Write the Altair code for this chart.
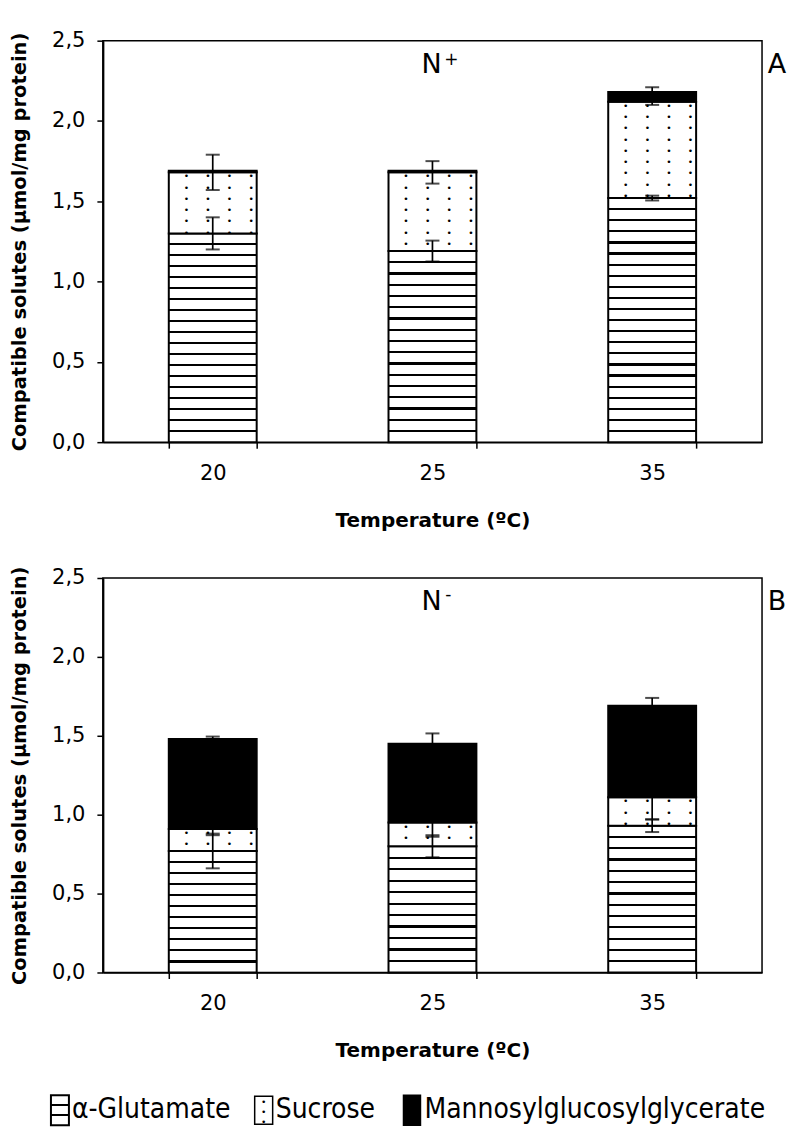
import altair as alt
import pandas as pd

# ---------------- data ----------------
temps = ["20", "25", "35"]
series_names = ["α-Glutamate", "Sucrose", "Mannosylglucosylglycerate"]
y_ticks = [0.0, 0.5, 1.0, 1.5, 2.0, 2.5]

# Panel A (N+)
a_glu = [1.30, 1.19, 1.52]
a_suc = [0.38, 0.49, 0.60]
a_mgg = [0.01, 0.01, 0.06]
a_glu_err = [0.10, 0.065, 0.015]
a_suc_err = [0.11, 0.07, 0.02]
a_mgg_err = [0.0, 0.0, 0.03]

# Panel B (N-)
b_glu = [0.77, 0.80, 0.93]
b_suc = [0.14, 0.15, 0.18]
b_mgg = [0.57, 0.50, 0.58]
b_glu_err = [0.11, 0.07, 0.04]
b_suc_err = [0.04, 0.09, 0.14]
b_mgg_err = [0.015, 0.065, 0.05]

# ---------------- style ----------------
FONT = "DejaVu Sans"
W = 660
YMAX = 2.5
STRIPE_PX = 11.1
NB = "\u00a0"


def stripe_fill(n, h_px, line_px=2.2):
    t = line_px / max(h_px, 1)
    stops = [alt.GradientStop(offset=0, color="white")]
    for k in range(1, n):
        c = k / n
        lo, hi = max(0.0, c - t / 2), min(1.0, c + t / 2)
        stops += [
            alt.GradientStop(offset=lo, color="white"),
            alt.GradientStop(offset=lo, color="black"),
            alt.GradientStop(offset=hi, color="black"),
            alt.GradientStop(offset=hi, color="white"),
        ]
    stops.append(alt.GradientStop(offset=1, color="white"))
    return alt.LinearGradient(gradient="linear", stops=stops, x1=0, x2=0, y1=0, y2=1)


def dot_text(h_px):
    rows = max(1, int((h_px - 4) / 11.3) + 1)
    a = ("•" + NB * 3) * 3 + "•" + NB * 2
    b = NB * 2 + ("•" + NB * 3) * 3 + "•"
    return "\n".join([a if i % 2 == 0 else b for i in range(rows)])


x_enc = alt.X(
    "T:N",
    sort=temps,
    scale=alt.Scale(domain=temps, paddingInner=0.6, paddingOuter=0.3),
    axis=alt.Axis(
        title="Temperature (ºC)", labelAngle=0, tickBand="extent",
        labelFont=FONT, labelFontSize=21, labelColor="black", labelPadding=14,
        titleFont=FONT, titleFontSize=20, titleFontWeight="bold", titleColor="black",
        titlePadding=27, tickColor="black", tickSize=6, tickWidth=1.5,
        domainColor="black", domainWidth=1.5,
    ),
)


def y_enc(field):
    return alt.Y(
        f"{field}:Q",
        scale=alt.Scale(domain=[0, YMAX], nice=False, zero=True),
        axis=alt.Axis(
            values=y_ticks,
            labelExpr="replace(format(datum.value, '.1f'), '.', ',')",
            labelFont=FONT, labelFontSize=21, labelColor="black", labelPadding=12,
            titleFont=FONT, titleFontSize=19.5, titleFontWeight="bold", titleColor="black",
            titlePadding=22, tickColor="black", tickSize=6, tickWidth=1.5,
            domainColor="black", domainWidth=2, grid=False,
        ),
        title="Compatible solutes (µmol/mg protein)",
    )


def panel(glu, suc, mgg, glu_err, suc_err, mgg_err, H, sign, sign_dx, sign_dy, letter):
    ppu = H / YMAX
    top_g = list(glu)
    top_s = [g + s for g, s in zip(glu, suc)]
    top_m = [g + s + m for g, s, m in zip(glu, suc, mgg)]

    layers = []
    # glutamate (striped)
    for i, t in enumerate(temps):
        d = pd.DataFrame({"T": [t], "y0": [0.0], "y1": [top_g[i]]})
        h = glu[i] * ppu
        n = max(1, round(h / STRIPE_PX))
        layers.append(
            alt.Chart(d).mark_bar(fill=stripe_fill(n, h), stroke="black", strokeWidth=2)
            .encode(x=x_enc, y=y_enc("y0"), y2="y1")
        )
    # sucrose (dotted)
    ds = pd.DataFrame({
        "T": temps, "y0": top_g, "y1": top_s,
        "dots": [dot_text(s * ppu) for s in suc],
    })
    layers.append(
        alt.Chart(ds).mark_bar(fill="white", stroke="black", strokeWidth=2)
        .encode(x=x_enc, y=y_enc("y0"), y2="y1")
    )
    layers.append(
        alt.Chart(ds).mark_text(font="DejaVu Sans Mono", fontSize=9, lineBreak="\n",
                                lineHeight=11.3, align="center", baseline="top",
                                color="black", dx=6)
        .encode(x=x_enc, y=y_enc("y1"), text="dots:N")
    )
    # MGG (black)
    dm = pd.DataFrame({"T": temps, "y0": top_s, "y1": top_m})
    layers.append(
        alt.Chart(dm).mark_bar(fill="black", stroke="black", strokeWidth=2)
        .encode(x=x_enc, y=y_enc("y0"), y2="y1")
    )
    # error bars
    rows = []
    for tops, errs in ((top_g, glu_err), (top_s, suc_err), (top_m, mgg_err)):
        for t, v, e in zip(temps, tops, errs):
            if e > 0:
                rows.append({"T": t, "lo": v - e, "hi": v + e})
    de = pd.DataFrame(rows)
    layers.append(
        alt.Chart(de).mark_rule(color="black", strokeWidth=1.7)
        .encode(x=x_enc, y=y_enc("lo"), y2="hi")
    )
    for f in ("lo", "hi"):
        layers.append(
            alt.Chart(de).mark_tick(color="black", thickness=2, size=14)
            .encode(x=x_enc, y=y_enc(f))
        )
    # annotations
    one = pd.DataFrame({"k": [0]})
    layers.append(
        alt.Chart(one).mark_text(font=FONT, fontSize=27, color="black", align="center", baseline="middle")
        .encode(x=alt.value(329), y=alt.value(24), text=alt.value("N"))
    )
    layers.append(
        alt.Chart(one).mark_text(font=FONT, fontSize=17, color="black", align="center", baseline="middle")
        .encode(x=alt.value(329 + sign_dx), y=alt.value(24 + sign_dy), text=alt.value(sign))
    )
    layers.append(
        alt.Chart(one).mark_text(font=FONT, fontSize=27, color="black", align="center", baseline="middle")
        .encode(x=alt.value(675), y=alt.value(24), text=alt.value(letter))
    )
    return alt.layer(*layers).properties(width=W, height=H)


pA = panel(a_glu, a_suc, a_mgg, a_glu_err, a_suc_err, a_mgg_err, 402, "+", 20, -5, "A")
pB = panel(b_glu, b_suc, b_mgg, b_glu_err, b_suc_err, b_mgg_err, 395, "-", 17, -7, "B")

# ---------------- legend ----------------
one = pd.DataFrame({"k": [0]})
LX = -103  # legend origin sits at the plot-area left edge
LEG_FONT = "DejaVu Sans Condensed"
LEG_SIZE = 28
leg_layers = [
    alt.Chart(one).mark_rect(fill=stripe_fill(3, 30), stroke="black", strokeWidth=2)
    .encode(x=alt.value(51 + LX), x2=alt.value(69 + LX), y=alt.value(0), y2=alt.value(30)),
    alt.Chart(one).mark_text(font=LEG_FONT, fontSize=LEG_SIZE, align="left", baseline="middle", color="black")
    .encode(x=alt.value(72 + LX), y=alt.value(15), text=alt.value(series_names[0])),
    alt.Chart(one).mark_rect(fill="white", stroke="black", strokeWidth=1.5)
    .encode(x=alt.value(255 + LX), x2=alt.value(273 + LX), y=alt.value(1), y2=alt.value(29)),
    alt.Chart(one).mark_text(font="DejaVu Sans Mono", fontSize=9, lineBreak="\n", lineHeight=10,
                             align="center", baseline="top", color="black")
    .encode(x=alt.value(264 + LX), y=alt.value(3),
            text=alt.value("•" + NB * 2 + "\n" + NB * 2 + "•\n" + "•" + NB * 2)),
    alt.Chart(one).mark_text(font=LEG_FONT, fontSize=LEG_SIZE, align="left", baseline="middle", color="black")
    .encode(x=alt.value(276 + LX), y=alt.value(15), text=alt.value(series_names[1])),
    alt.Chart(one).mark_rect(fill="black", stroke="black", strokeWidth=1.5)
    .encode(x=alt.value(404 + LX), x2=alt.value(421 + LX), y=alt.value(0), y2=alt.value(30)),
    alt.Chart(one).mark_text(font=LEG_FONT, fontSize=LEG_SIZE, align="left", baseline="middle", color="black")
    .encode(x=alt.value(425 + LX), y=alt.value(15), text=alt.value(series_names[2])),
]
legend = alt.layer(*leg_layers).properties(width=600, height=30, view=alt.ViewBackground(strokeWidth=0))

chart = (
    alt.vconcat(alt.vconcat(pA, pB, spacing=34), legend, spacing=33)
    .properties(padding={"left": 0, "top": 20, "right": 0, "bottom": 0})
    .configure_view(stroke="black", strokeWidth=1.5)
)

chart.save("out.html", embed_options={"renderer": "svg", "actions": False})
